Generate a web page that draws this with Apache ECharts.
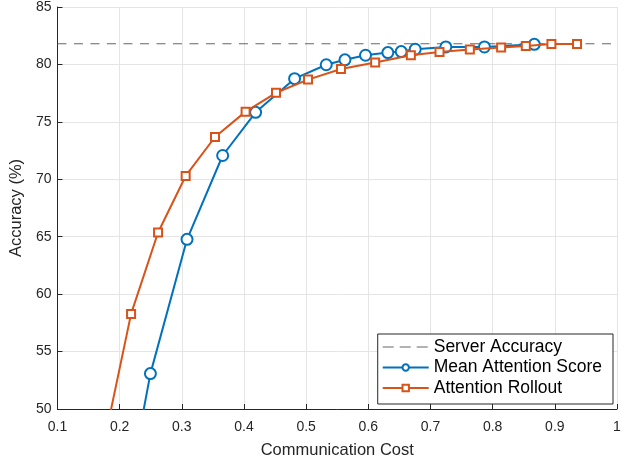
<!DOCTYPE html>
<html><head><meta charset="utf-8">
<script src="https://cdn.jsdelivr.net/npm/echarts@6/dist/echarts.min.js"></script>
<style>html,body{margin:0;padding:0;background:#fff}#c{width:641px;height:464px}</style>
</head><body><div id="c"></div>
<script>
const serverAccuracy = 81.8;
const serverX = [0.1, 1];
const meanX = [0.225, 0.2495, 0.3084, 0.3657, 0.4187, 0.4814, 0.5323, 0.5624, 0.5955, 0.6314, 0.6529, 0.6754, 0.7247, 0.7868, 0.867];
const meanY = [46.0, 53.08, 64.77, 72.07, 75.83, 78.76, 79.97, 80.4, 80.8, 81.03, 81.12, 81.32, 81.52, 81.52, 81.75];
const rollX = [0.17, 0.2184, 0.2618, 0.3062, 0.3534, 0.4026, 0.4515, 0.503, 0.556, 0.611, 0.6684, 0.7145, 0.7633, 0.8136, 0.8533, 0.8945, 0.9357];
const rollY = [45.8, 58.28, 65.37, 70.29, 73.68, 75.89, 77.53, 78.68, 79.6, 80.17, 80.8, 81.09, 81.29, 81.47, 81.61, 81.78, 81.78];
const seriesNames = ['Server Accuracy', 'Mean Attention Score', 'Attention Rollout'];
const xTitle = 'Communication Cost';
const yTitle = 'Accuracy (%)';

const zip = (xs, ys) => xs.map((x, i) => [x, ys[i]]);
const FONT = '"Liberation Sans", Arial, Helvetica, sans-serif';
const chart = echarts.init(document.getElementById('c'), null, {renderer: 'canvas'});
chart.setOption({
  animation: false,
  backgroundColor: '#fff',
  textStyle: {fontFamily: FONT},
  grid: {left: 57, right: 24, top: 7, bottom: 51, containLabel: false},
  xAxis: {
    type: 'value', min: 0.1, max: 1, interval: 0.1,
    name: xTitle, nameLocation: 'middle', nameGap: 33,
    nameTextStyle: {fontSize: 16.5, color: '#262626', fontFamily: FONT},
    axisLine: {show: true, onZero: false, lineStyle: {color: '#262626', width: 1}},
    axisTick: {show: true, inside: true, length: 5, lineStyle: {color: '#262626'}},
    axisLabel: {fontSize: 14, color: '#262626', margin: 11, fontFamily: FONT},
    splitLine: {show: true, lineStyle: {color: '#e5e5e5', width: 1}}
  },
  yAxis: {
    type: 'value', min: 50, max: 85, interval: 5,
    name: yTitle, nameLocation: 'middle', nameGap: 25, nameRotate: 90,
    nameTextStyle: {fontSize: 16.5, color: '#262626', fontFamily: FONT},
    axisLine: {show: true, onZero: false, lineStyle: {color: '#262626', width: 1}},
    axisTick: {show: true, inside: true, length: 5, lineStyle: {color: '#262626'}},
    axisLabel: {fontSize: 14, color: '#262626', margin: 6, fontFamily: FONT},
    splitLine: {show: true, lineStyle: {color: '#e5e5e5', width: 1}}
  },
  legend: {
    orient: 'vertical', right: 28, top: 334,
    backgroundColor: '#fff', borderColor: '#262626', borderWidth: 1,
    padding: [3, 11, 6, 4], itemGap: 0.5, itemWidth: 46, itemHeight: 8,
    textStyle: {fontSize: 17.5, lineHeight: 20, color: '#000', fontFamily: FONT},
    data: [
      {name: seriesNames[0], itemStyle: {opacity: 0}, lineStyle: {type: [11, 6], width: 1}},
      {name: seriesNames[1], itemStyle: {borderWidth: 1.5}},
      {name: seriesNames[2], itemStyle: {borderWidth: 1.5}}
    ]
  },
  series: [
    {
      name: seriesNames[0], type: 'line', data: zip(serverX, [serverAccuracy, serverAccuracy]),
      symbol: 'none', color: '#666',
      lineStyle: {color: '#666', width: 1, type: [9, 7.5]}, z: 1
    },
    {
      name: seriesNames[1], type: 'line', data: zip(meanX, meanY),
      symbol: 'emptyCircle', symbolSize: 11, color: '#0072BD',
      lineStyle: {color: '#0072BD', width: 2},
      itemStyle: {color: '#0072BD', borderWidth: 2, borderColor: '#0072BD'}, z: 2
    },
    {
      name: seriesNames[2], type: 'line', data: zip(rollX, rollY),
      symbol: 'emptyRect', symbolSize: 8, color: '#D95319',
      lineStyle: {color: '#D95319', width: 2},
      itemStyle: {color: '#D95319', borderWidth: 2, borderColor: '#D95319'}, z: 3
    }
  ]
});
</script></body></html>
